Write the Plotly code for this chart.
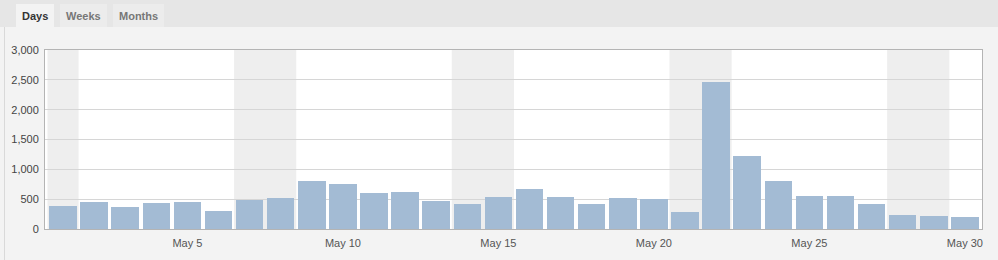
import plotly.graph_objects as go
import pandas as pd

# ---- data ----
dates = ["2011-05-%02d" % d for d in range(1, 31)]
visits = [385, 445, 375, 435, 450, 300, 480, 515, 805, 750,
          600, 615, 470, 425, 535, 675, 540, 415, 520, 495,
          280, 2470, 1225, 800, 560, 560, 420, 230, 215, 200]
y_ticks = [0, 500, 1000, 1500, 2000, 2500, 3000]
x_tick_dates = ["2011-05-05", "2011-05-10", "2011-05-15", "2011-05-20", "2011-05-25", "2011-05-30"]
tabs = ["Days", "Weeks", "Months"]

W, H = 998, 260
L, R, T, B = 45, 16, 50, 31
PW, PH = W - L - R, H - T - B

def px(xp):
    return (xp - L) / PW

def py(yp):
    return (H - B - yp) / PH

DAY_MS = 86400000
x_start = pd.Timestamp(dates[0]) - pd.Timedelta(hours=13.9)
x_end = pd.Timestamp(dates[-1]) + pd.Timedelta(hours=13.2)

fig = go.Figure()
fig.add_trace(go.Bar(
    x=dates, y=visits, width=0.885 * DAY_MS,
    marker=dict(color="#a3bbd4", line=dict(width=0)),
    hoverinfo="x+y",
))

shapes = []
# weekend bands
for d in dates:
    ts = pd.Timestamp(d)
    if ts.weekday() == 5 or (ts.weekday() == 6 and ts == pd.Timestamp(dates[0])):
        x0 = ts - pd.Timedelta(hours=12)
        x1 = ts + pd.Timedelta(hours=36) if ts.weekday() == 5 else ts + pd.Timedelta(hours=12)
        if x0 < x_start:
            x0 = x_start
        if x1 > x_end:
            x1 = x_end
        shapes.append(dict(type="rect", xref="x", yref="paper", x0=x0, x1=x1, y0=0, y1=1,
                           fillcolor="#eeeeee", line=dict(width=0), layer="below"))

# tab bar and panel
shapes.append(dict(type="rect", xref="paper", yref="paper", x0=px(0), x1=px(W), y0=py(27), y1=py(0),
                   fillcolor="#e6e6e6", line=dict(width=0), layer="below"))
shapes.append(dict(type="line", xref="paper", yref="paper", x0=px(4.5), x1=px(4.5), y0=py(27), y1=py(H),
                   line=dict(color="#d9d9d9", width=1), layer="below"))
tab_pos = [(16, 54), (60, 107), (113, 164)]
annotations = []
for i, (name, (a, b)) in enumerate(zip(tabs, tab_pos)):
    shapes.append(dict(type="rect", xref="paper", yref="paper", x0=px(a), x1=px(b), y0=py(27), y1=py(4),
                       fillcolor="#f3f3f3" if i == 0 else "#ececec", line=dict(width=0), layer="below"))
    annotations.append(dict(text="<b>%s</b>" % name, xref="paper", yref="paper",
                            x=px((a + b) / 2), y=py(16), showarrow=False,
                            xanchor="center", yanchor="middle",
                            font=dict(family="Liberation Sans, Arial", size=11,
                                      color="#333333" if i == 0 else "#777777")))

fig.update_layout(
    width=W, height=H,
    margin=dict(l=L, r=R, t=T, b=B, pad=0),
    paper_bgcolor="#f3f3f3", plot_bgcolor="#ffffff",
    showlegend=False, bargap=0,
    shapes=shapes, annotations=annotations,
    font=dict(family="Liberation Sans, Arial", size=11, color="#444444"),
    xaxis=dict(type="date", range=[x_start, x_end], tickvals=x_tick_dates, tickformat="%b %-d",
               showgrid=False, showline=True, linecolor="#b4b4b4", linewidth=1, mirror=True,
               ticks="", ticklabelstandoff=4, tickfont=dict(size=11, color="#555555"),
               zeroline=False, fixedrange=True),
    yaxis=dict(range=[0, 3000], tickvals=y_ticks, tickformat=",", showgrid=True,
               gridcolor="#d6d6d6", gridwidth=1, showline=True, linecolor="#b4b4b4", linewidth=1,
               mirror=True, ticks="", ticklabelstandoff=3, tickfont=dict(size=11, color="#444444"),
               zeroline=False, fixedrange=True),
)

fig.write_html("out.html", config={"displayModeBar": False})
